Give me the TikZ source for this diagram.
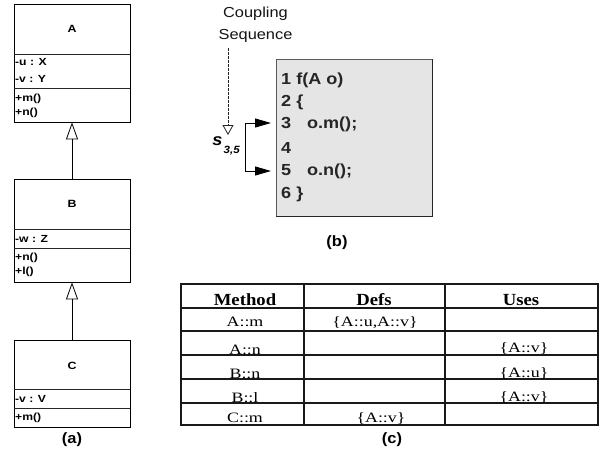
\documentclass[tikz,border=0pt]{standalone}
\usepackage{fontspec}
\setmainfont{Liberation Serif}
\setsansfont{Liberation Sans}
\usepackage{graphicx}
\usetikzlibrary{arrows.meta}

% horizontally widened text
\newcommand{\wcls}[1]{\scalebox{1.18}[1]{#1}}
\newcommand{\wcode}[1]{\scalebox{1.13}[1]{#1}}
\newcommand{\wtab}[1]{\scalebox{1.25}[1]{#1}}
\newcommand{\whead}[1]{\scalebox{1.1}[1]{#1}}

\begin{document}
\begin{tikzpicture}[x=1pt,y=-1pt,
  clsbox/.style={draw=black, line width=0.8pt, inner sep=0pt, minimum width=116pt},
  clsname/.style={inner sep=0pt, font=\sffamily\bfseries\fontsize{10.5}{12}\selectfont},
  member/.style={anchor=west, inner sep=0pt, font=\sffamily\bfseries\fontsize{10.3}{12}\selectfont},
  divider/.style={line width=0.8pt, black!85},
  inherit/.style={line width=0.8pt, -{Triangle[open, length=17pt, width=12pt]}},
  codebox/.style={fill=black!10, draw=black!65, line width=0.8pt, inner sep=0pt,
                  minimum width=156pt, minimum height=157pt},
  codeline/.style={anchor=west, inner sep=0pt, font=\sffamily\bfseries\fontsize{16}{18}\selectfont, text=black!85},
  caption/.style={inner sep=0pt, font=\sffamily\bfseries\fontsize{15}{17}\selectfont},
  note/.style={inner sep=0pt, font=\sffamily\fontsize{14.5}{16}\selectfont, text=black!92},
  grid/.style={line width=1.6pt, black!90},
  headcell/.style={anchor=base, inner sep=0pt, font=\rmfamily\bfseries\fontsize{17}{19}\selectfont},
  cell/.style={anchor=base, inner sep=0pt, font=\rmfamily\fontsize{14.3}{16}\selectfont}
]
\useasboundingbox (0,0) rectangle (600,458);

% ---------- class hierarchy ----------
\node[clsbox, minimum height=118pt] (A) at (72,63) {};
\node[clsbox, minimum height=103pt] (B) at (72,230.5) {};
\node[clsbox, minimum height=87pt]  (C) at (72,383.5) {};

\draw[divider] (14,54) -- (130,54);
\draw[divider] (14,88) -- (130,88);
\draw[divider] (14,229) -- (130,229);
\draw[divider] (14,248) -- (130,248);
\draw[divider] (14,389) -- (130,389);
\draw[divider] (14,408) -- (130,408);

\node[clsname] (nA) at (72,29) {\wcls{A}};
\node[clsname] (nB) at (72,204) {\wcls{B}};
\node[clsname] (nC) at (72,366) {\wcls{C}};

\node[member] (a1) at (15,62.5) {\wcls{-u : X}};
\node[member] (a2) at (15,78.5) {\wcls{-v : Y}};
\node[member] (a3) at (15,98.5) {\wcls{+m()}};
\node[member] (a4) at (15,113) {\wcls{+n()}};

\node[member] (b1) at (15,239) {\wcls{-w : Z}};
\node[member] (b2) at (15,258) {\wcls{+n()}};
\node[member] (b3) at (15,272) {\wcls{+l()}};

\node[member] (c1) at (15,398.5) {\wcls{-v : V}};
\node[member] (c2) at (15,417.5) {\wcls{+m()}};

\draw[inherit] (B.north) -- (A.south);
\draw[inherit] (C.north) -- (B.south);

\node[caption] (capa) at (72,440) {\whead{(a)}};

% ---------- code fragment ----------
\node[note] (coup) at (255.5,14) {\wcode{Coupling}};
\node[note] (seq)  at (255.5,36) {\wcode{Sequence}};

\node[codebox] (code) at (354,137.5) {};
\draw[black!85, line width=1.4pt] (code.south west) -- (code.south east) -- (code.north east);

\node[codeline] (l1) at (281,80)  {\wcode{1 f(A o)}};
\node[codeline] (l2) at (281,102) {\wcode{2 \{}};
\node[codeline] (l3) at (281,124) {\wcode{3\hspace{14pt}o.m();}};
\node[codeline] (l4) at (281,148) {\wcode{4}};
\node[codeline] (l5) at (281,171) {\wcode{5\hspace{14pt}o.n();}};
\node[codeline] (l6) at (281,194) {\wcode{6 \}}};

\coordinate (dstart) at (228,48);
\coordinate (dtip) at (228,135);
\draw[black!85, line width=0.8pt, dash pattern=on 2.5pt off 1.5pt,
      -{Triangle[open, length=10pt, width=11pt, line width=0.8pt]}] (dstart) -- (dtip);

\coordinate (t3) at (271,123);
\coordinate (t5) at (271,171);
\draw[line width=0.9pt, {Triangle[length=16pt, width=9pt]}-{Triangle[length=16pt, width=9pt]}]
  (t3) -- (245,123) |- (t5);

\node[anchor=base, inner sep=0pt, font=\sffamily\bfseries\itshape\fontsize{16.5}{18}\selectfont]
  (s) at (217.5,145) {\whead{s}};
\node[anchor=base west, inner sep=0pt, font=\sffamily\bfseries\itshape\fontsize{10.5}{12}\selectfont]
  (sub) at (223.5,153) {\whead{3,5}};

\node[caption] (capb) at (337,243) {\whead{(b)}};

% ---------- def/use table ----------
\draw[grid] (181,284) rectangle (598,425);
\foreach \yy in {308,331,355,379,403} \draw[grid] (181,\yy) -- (598,\yy);
\draw[grid] (304,284) -- (304,425);
\draw[grid] (445,284) -- (445,425);

\node[headcell] (hm) at (245,305.5) {\whead{Method}};
\node[headcell] (hd) at (374,305.5) {\whead{Defs}};
\node[headcell] (hu) at (521,305.5) {\whead{Uses}};

\node[cell] (m1) at (245,326) {\wtab{A::m}};
\node[cell] (m2) at (245,354) {\wtab{A::n}};
\node[cell] (m3) at (245,378) {\wtab{B::n}};
\node[cell] (m4) at (245,402) {\wtab{B::l}};
\node[cell] (m5) at (245,422) {\wtab{C::m}};

\node[cell] (d1) at (375,326) {\wtab{\{A::u,A::v\}}};
\node[cell] (d5) at (381,422) {\wtab{\{A::v\}}};

\node[cell] (u2) at (524,352) {\wtab{\{A::v\}}};
\node[cell] (u3) at (524,377) {\wtab{\{A::u\}}};
\node[cell] (u4) at (524,401) {\wtab{\{A::v\}}};

\node[caption] (capc) at (392,440) {\whead{(c)}};
\end{tikzpicture}
\end{document}
